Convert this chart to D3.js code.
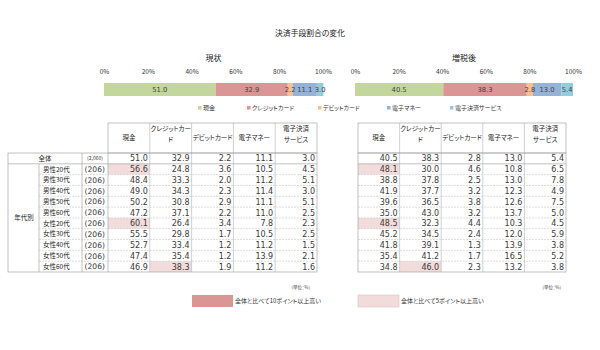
<!DOCTYPE html>
<html><head><meta charset="utf-8">
<script src="https://cdn.jsdelivr.net/npm/d3@7"></script>
<style>
html,body{margin:0;padding:0;background:#fff;}
svg{display:block;}
.jp{font-family:"Noto Sans CJK JP","Noto Sans",sans-serif;font-feature-settings:"palt";}
.num{font-family:"DejaVu Sans",sans-serif;}
</style></head>
<body><svg id="c" width="600" height="350"></svg>
<script>
// ---- data ----
const title = "決済手段割合の変化";
const panelTitles = ["現状", "増税後"];
const categories = ["現金", "クレジットカード", "デビットカード", "電子マネー", "電子決済サービス"];
const headerLines = [["現金"], ["クレジットカー", "ド"], ["デビットカード"], ["電子マネー"], ["電子決済", "サービス"]];
const rowLabels = ["全体", "男性20代", "男性30代", "男性40代", "男性50代", "男性60代", "女性20代", "女性30代", "女性40代", "女性50代", "女性60代"];
const sampleSizes = ["(2,060)", "(206)", "(206)", "(206)", "(206)", "(206)", "(206)", "(206)", "(206)", "(206)", "(206)"];
const groupLabel = "年代別";
const axisTicks = [0, 20, 40, 60, 80, 100];
// current (現状) by payment method
const cashNow   = [51.0, 56.6, 48.4, 49.0, 50.2, 47.2, 60.1, 55.5, 52.7, 47.4, 46.9];
const creditNow = [32.9, 24.8, 33.3, 34.3, 30.8, 37.1, 26.4, 29.8, 33.4, 35.4, 38.3];
const debitNow  = [2.2, 3.6, 2.0, 2.3, 2.9, 2.2, 3.4, 1.7, 1.2, 1.2, 1.9];
const emoneyNow = [11.1, 10.5, 11.2, 11.4, 11.1, 11.0, 7.8, 10.5, 11.2, 13.9, 11.2];
const epayNow   = [3.0, 4.5, 5.1, 3.0, 5.1, 2.5, 2.3, 2.5, 1.5, 2.1, 1.6];
// after tax increase (増税後)
const cashAfter   = [40.5, 48.1, 38.8, 41.9, 39.6, 35.0, 48.5, 45.2, 41.8, 35.4, 34.8];
const creditAfter = [38.3, 30.0, 37.8, 37.7, 36.5, 43.0, 32.3, 34.5, 39.1, 41.2, 46.0];
const debitAfter  = [2.8, 4.6, 2.5, 3.2, 3.8, 3.2, 4.4, 2.4, 1.3, 1.7, 2.3];
const emoneyAfter = [13.0, 10.8, 13.0, 12.3, 12.6, 13.7, 10.3, 12.0, 13.9, 16.5, 13.2];
const epayAfter   = [5.4, 6.5, 7.8, 4.9, 7.5, 5.0, 4.5, 5.9, 3.8, 5.2, 3.8];
const legendNotes = ["全体と比べて10ポイント以上高い", "全体と比べて5ポイント以上高い"];
const unitNote = "(単位：%)";

const colors = ["#c3d69b", "#d99694", "#f9bf8f", "#95b3d7", "#93cddd"];
const hiDark = "#da9694", hiLight = "#f2dcdb";

const svg = d3.select("#c");

// title
svg.append("text").attr("class", "jp").attr("x", 310).attr("y", 36)
  .attr("text-anchor", "middle").attr("font-size", 7.8).attr("fill", "#222").text(title);

const panels = [
  { name: panelTitles[0], cols: [cashNow, creditNow, debitNow, emoneyNow, epayNow], bx: [104, 323], tx: [108, 317], labels: true },
  { name: panelTitles[1], cols: [cashAfter, creditAfter, debitAfter, emoneyAfter, epayAfter], bx: [355, 573], tx: [358, 566], labels: false }
];

panels.forEach(p => {
  const x = d3.scaleLinear().domain([0, 100]).range(p.bx);
  const g = svg.append("g");
  g.append("text").attr("class", "jp").attr("x", (p.bx[0] + p.bx[1]) / 2).attr("y", 61)
    .attr("text-anchor", "middle").attr("font-size", 8).attr("fill", "#222").text(p.name);
  // axis
  const ax = g.append("g").attr("transform", "translate(0,76)")
    .call(d3.axisTop(x).tickValues(axisTicks).tickSize(0).tickPadding(2).tickFormat(d => d + "%"));
  ax.select(".domain").remove();
  ax.selectAll("text").attr("class", "jp").attr("font-size", 6.5).attr("fill", "#333");
  // stacked bar (全体 row)
  const row = {}; categories.forEach((c, i) => row[c] = p.cols[i][0]);
  const series = d3.stack().keys(categories)([row]);
  const by = 83, bh = 13;
  g.selectAll("rect.seg").data(series).join("rect").attr("class", "seg")
    .attr("x", d => x(d[0][0])).attr("width", d => x(d[0][1]) - x(d[0][0]))
    .attr("y", by).attr("height", bh).attr("fill", (d, i) => colors[i]);
  g.selectAll("text.seg").data(series).join("text").attr("class", "seg num")
    .attr("x", d => x((d[0][0] + d[0][1]) / 2)).attr("y", by + bh / 2 + 2.5)
    .attr("text-anchor", "middle").attr("font-size", 6.8).attr("fill", "#444")
    .text(d => d[0].data[d.key].toFixed(1));

  // table
  const cx = d3.scaleBand().domain(categories).range(p.tx);
  const ry = d3.scaleBand().domain(rowLabels).range([153, 272]);
  const t = svg.append("g");
  const lineC = "#bfbfbf", outerC = "#a6a6a6";
  const left = p.labels ? 8 : p.tx[0];
  // highlights
  categories.forEach((c, ci) => {
    const base = p.cols[ci][0];
    rowLabels.forEach((r, ri) => {
      if (ri === 0) return;
      const diff = p.cols[ci][ri] - base;
      if (diff >= 5) {
        t.append("rect").attr("x", cx(c)).attr("y", ry(r)).attr("width", cx.bandwidth()).attr("height", ry.bandwidth())
          .attr("fill", diff >= 10 ? hiDark : hiLight);
      }
    });
  });
  // horizontal dashed row separators
  rowLabels.slice(1).forEach((r, i) => {
    const yy = ry(r);
    const xs = (i === 0) ? left : (p.labels ? 39 : p.tx[0]);
    t.append("line").attr("x1", xs).attr("x2", p.tx[1]).attr("y1", yy).attr("y2", yy)
      .attr("stroke", i === 0 ? outerC : "#cfcfcf").attr("stroke-width", 0.7)
      .attr("stroke-dasharray", i === 0 ? null : "2,1");
  });
  // vertical lines in value area (header + body)
  categories.forEach((c, i) => {
    if (i === 0) return;
    t.append("line").attr("x1", cx(c)).attr("x2", cx(c)).attr("y1", 123).attr("y2", 272)
      .attr("stroke", lineC).attr("stroke-width", 0.7);
  });
  // header border
  t.append("rect").attr("x", p.tx[0]).attr("y", 123).attr("width", p.tx[1] - p.tx[0]).attr("height", 30)
    .attr("fill", "none").attr("stroke", outerC).attr("stroke-width", 0.7);
  // body border
  t.append("rect").attr("x", left).attr("y", 153).attr("width", p.tx[1] - left).attr("height", 119)
    .attr("fill", "none").attr("stroke", outerC).attr("stroke-width", 0.7);
  if (p.labels) {
    [82, 108].forEach(xx => t.append("line").attr("x1", xx).attr("x2", xx).attr("y1", 153).attr("y2", 272)
      .attr("stroke", outerC).attr("stroke-width", 0.7));
    t.append("line").attr("x1", 39).attr("x2", 39).attr("y1", ry(rowLabels[1])).attr("y2", 272)
      .attr("stroke", outerC).attr("stroke-width", 0.7);
    // labels
    rowLabels.forEach((r, ri) => {
      const yy = ry(r) + ry.bandwidth() / 2;
      t.append("text").attr("class", "jp").attr("x", ri === 0 ? 45 : 43).attr("y", yy + 2.3)
        .attr("text-anchor", ri === 0 ? "middle" : "start").attr("font-size", 6.5).attr("fill", "#222").text(r);
      t.append("text").attr("class", ri === 0 ? "jp" : "num").attr("x", ri === 0 ? 95 : 84.5).attr("y", yy + (ri === 0 ? 1.8 : 2.8))
        .attr("text-anchor", ri === 0 ? "middle" : "start").attr("font-size", ri === 0 ? 5 : 7.6).attr("fill", "#3a3a3a").text(sampleSizes[ri]);
    });
    t.append("text").attr("class", "jp").attr("x", 24).attr("y", (ry(rowLabels[1]) + 272) / 2 + 2.5)
      .attr("text-anchor", "middle").attr("font-size", 6.5).attr("fill", "#222").text(groupLabel);
  }
  // headers
  headerLines.forEach((lines, i) => {
    const xc = cx(categories[i]) + cx.bandwidth() / 2;
    lines.forEach((ln, li) => {
      const yy = lines.length === 1 ? 140 : (li === 0 ? 130.5 : 142);
      t.append("text").attr("class", "jp").attr("x", xc).attr("y", yy).attr("text-anchor", "middle")
        .attr("font-size", 6.5).attr("fill", "#222").text(ln);
    });
  });
  // values
  categories.forEach((c, ci) => {
    rowLabels.forEach((r, ri) => {
      t.append("text").attr("class", "num").attr("x", cx(c) + cx.bandwidth() - 2)
        .attr("y", ry(r) + ry.bandwidth() / 2 + 3).attr("text-anchor", "end")
        .attr("font-size", 8).attr("fill", "#3a3a3a").text(p.cols[ci][ri].toFixed(1));
    });
  });
});

// legend for bars
const legX = [198, 247, 318, 387, 450];
categories.forEach((c, i) => {
  svg.append("rect").attr("x", legX[i]).attr("y", 106).attr("width", 3.5).attr("height", 3.5).attr("fill", colors[i]);
  svg.append("text").attr("class", "jp").attr("x", legX[i] + 5).attr("y", 110.3)
    .attr("font-size", 6).attr("fill", "#333").text(c);
});

// unit notes
[310, 561].forEach(xx => svg.append("text").attr("class", "jp").attr("x", xx).attr("y", 289)
  .attr("text-anchor", "end").attr("font-size", 4.5).attr("fill", "#444").text(unitNote));

// highlight legend
const hlBoxes = [{ x: 192, c: hiDark, s: "none" }, { x: 358, c: hiLight, s: "#d8b8b8" }];
hlBoxes.forEach((b, i) => {
  svg.append("rect").attr("x", b.x).attr("y", 295).attr("width", 41).attr("height", 12)
    .attr("fill", b.c).attr("stroke", b.s).attr("stroke-width", 0.5);
  svg.append("text").attr("class", "jp").attr("x", b.x + 43).attr("y", 303)
    .attr("font-size", 6).attr("fill", "#333").text(legendNotes[i]);
});
</script></body></html>
